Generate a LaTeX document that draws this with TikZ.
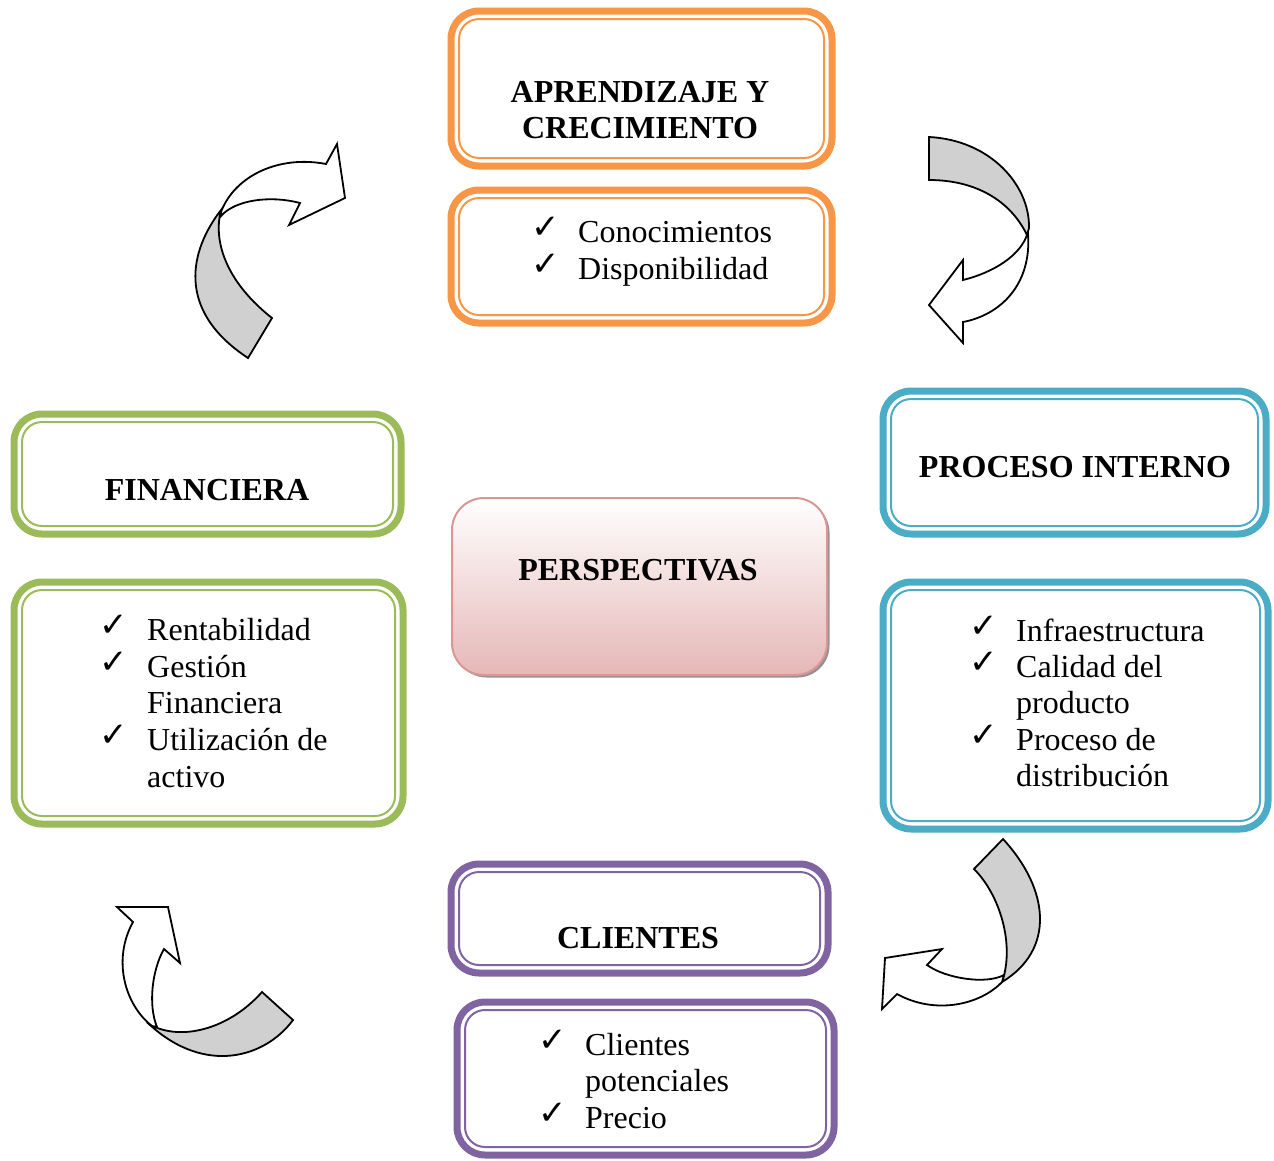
\documentclass[tikz,border=0pt]{standalone}
\usepackage{fontspec}
\setmainfont{Liberation Serif}
\newfontfamily\symfont{DejaVu Sans}
\usetikzlibrary{shadows}

\definecolor{orng}{HTML}{F79646}
\definecolor{aqua}{HTML}{4BACC6}
\definecolor{olive}{HTML}{9BBB59}
\definecolor{plum}{HTML}{8064A2}
\definecolor{roseline}{HTML}{D99694}
\definecolor{rosefill}{HTML}{E5B8B7}
\definecolor{ribbon}{HTML}{D0D0D0}

\tikzset{
  framebox/.style={draw=#1, line width=7pt, rounded corners=28pt, fill=white,
    inner sep=0pt, outer sep=0pt},
  innerline/.style={draw=#1, line width=2pt, rounded corners=20pt},
  ttl/.style={font=\fontsize{32}{36}\selectfont\bfseries, anchor=base, inner sep=0pt},
  itm/.style={font=\fontsize{32}{36}\selectfont, anchor=base west, inner sep=0pt},
  chk/.style={font=\symfont\fontsize{34}{34}\selectfont, anchor=base west, inner sep=0pt},
  front/.style={draw=black, line width=1.8pt, fill=white, line join=miter},
  back/.style={draw=black, line width=1.8pt, fill=ribbon, line join=miter},
}

\begin{document}
\begin{tikzpicture}[x=1pt, y=-1pt]
\useasboundingbox[fill=white] (0,0) rectangle (1274,1160);

% ---- framed boxes ----
\node[framebox=orng, minimum width=381pt, minimum height=155pt] (at) at (641.5,88.5) {};
\node[framebox=orng, minimum width=381pt, minimum height=133pt] (al) at (641.5,256.5) {};
\node[framebox=aqua, minimum width=383pt, minimum height=143pt] (pt) at (1074.5,462.5) {};
\node[framebox=aqua, minimum width=385pt, minimum height=247pt] (pl) at (1075.5,705.5) {};
\node[framebox=olive, minimum width=387pt, minimum height=120pt] (ft) at (207.5,474) {};
\node[framebox=olive, minimum width=389pt, minimum height=242pt] (fl) at (208.5,703) {};
\node[framebox=plum, minimum width=377pt, minimum height=109pt] (ct) at (639.5,918.5) {};
\node[framebox=plum, minimum width=377pt, minimum height=153pt] (cl) at (645.5,1078.5) {};

\foreach \b/\c in {at/orng, al/orng, pt/aqua, pl/aqua, ft/olive, fl/olive, ct/plum, cl/plum}
  \draw[innerline=\c] ([xshift=8pt,yshift=-8pt]\b.north west) rectangle ([xshift=-8pt,yshift=8pt]\b.south east);

% ---- centre box ----
\node[draw=roseline, line width=2pt, rounded corners=32pt, top color=white, bottom color=rosefill,
      minimum width=375pt, minimum height=177pt, inner sep=0pt, outer sep=0pt,
      drop shadow={shadow xshift=2.5pt, shadow yshift=-2.5pt, fill=black!70, opacity=.6}]
      (pv) at (639.5,586.5) {};

% ---- titles ----
\node[ttl] (at1) at (640,102) {APRENDIZAJE Y};
\node[ttl] (at2) at (640,138) {CRECIMIENTO};
\node[ttl] (pt1) at (1075,477) {PROCESO INTERNO};
\node[ttl] (ft1) at (207,500) {FINANCIERA};
\node[ttl] (pv1) at (638,580) {PERSPECTIVAS};
\node[ttl] (ct1) at (638,948) {CLIENTES};

% ---- lists ----
\node[chk] (ac1) at (531,238) {✓};
\node[chk] (ac2) at (531,275) {✓};
\node[itm] (ai1) at (578,242) {Conocimientos};
\node[itm] (ai2) at (578,279) {Disponibilidad};

\node[chk] (fc1) at (99,636) {✓};
\node[chk] (fc2) at (99,673) {✓};
\node[chk] (fc3) at (99,746) {✓};
\node[itm] (fi1) at (147,640) {Rentabilidad};
\node[itm] (fi2) at (147,677) {Gestión};
\node[itm] (fi3) at (147,713) {Financiera};
\node[itm] (fi4) at (147,750) {Utilización de};
\node[itm] (fi5) at (147,787) {activo};

\node[chk] (pc1) at (969,637) {✓};
\node[chk] (pc2) at (969,673) {✓};
\node[chk] (pc3) at (969,746) {✓};
\node[itm] (pi1) at (1016,641) {Infraestructura};
\node[itm] (pi2) at (1016,677) {Calidad del};
\node[itm] (pi3) at (1016,713) {producto};
\node[itm] (pi4) at (1016,750) {Proceso de};
\node[itm] (pi5) at (1016,786) {distribución};

\node[chk] (cc1) at (538,1051) {✓};
\node[chk] (cc2) at (538,1124) {✓};
\node[itm] (ci1) at (585,1055) {Clientes};
\node[itm] (ci2) at (585,1091) {potenciales};
\node[itm] (ci3) at (585,1128) {Precio};

% ---- twisted ribbon arrows ----
% upper left
\draw[back] (221,210) .. controls (190,250) and (175,310) .. (248,358)
  -- (272,318) .. controls (230,285) and (212,245) .. (221,210) -- cycle;
\draw[front] (221,212) .. controls (235,175) and (280,155) .. (326,164)
  -- (337,144) -- (345,198) -- (289,225) -- (300,203)
  .. controls (270,195) and (235,200) .. (221,216) -- cycle;

% upper right
\draw[back] (929,137) .. controls (990,140) and (1030,185) .. (1029,228)
  -- (1027,235) .. controls (1010,200) and (975,180) .. (929,180) -- cycle;
\draw[front] (1028,233) .. controls (1032,285) and (1000,315) .. (963,322)
  -- (963,343) -- (929,305) -- (963,260) -- (963,280)
  .. controls (995,272) and (1020,255) .. (1027,235) -- cycle;

% lower right
\draw[back] (1003,839) .. controls (1050,890) and (1055,950) .. (1002,982)
  .. controls (1015,945) and (1000,895) .. (974,869) -- cycle;
\draw[front] (1002,982) .. controls (980,1005) and (935,1015) .. (897,994)
  -- (882,1009) -- (885,958) -- (942,949) -- (927,965)
  .. controls (945,978) and (985,985) .. (1004,975) -- cycle;

% lower left
\draw[back] (155,1027) .. controls (185,1040) and (230,1028) .. (262,992)
  -- (293,1020) .. controls (265,1058) and (205,1075) .. (150,1025) -- cycle;
\draw[front] (157,1027) .. controls (148,1005) and (152,970) .. (164,949)
  -- (180,963) -- (168,907) -- (117,907) -- (133,922)
  .. controls (112,960) and (125,1005) .. (152,1026) -- cycle;
\end{tikzpicture}
\end{document}
